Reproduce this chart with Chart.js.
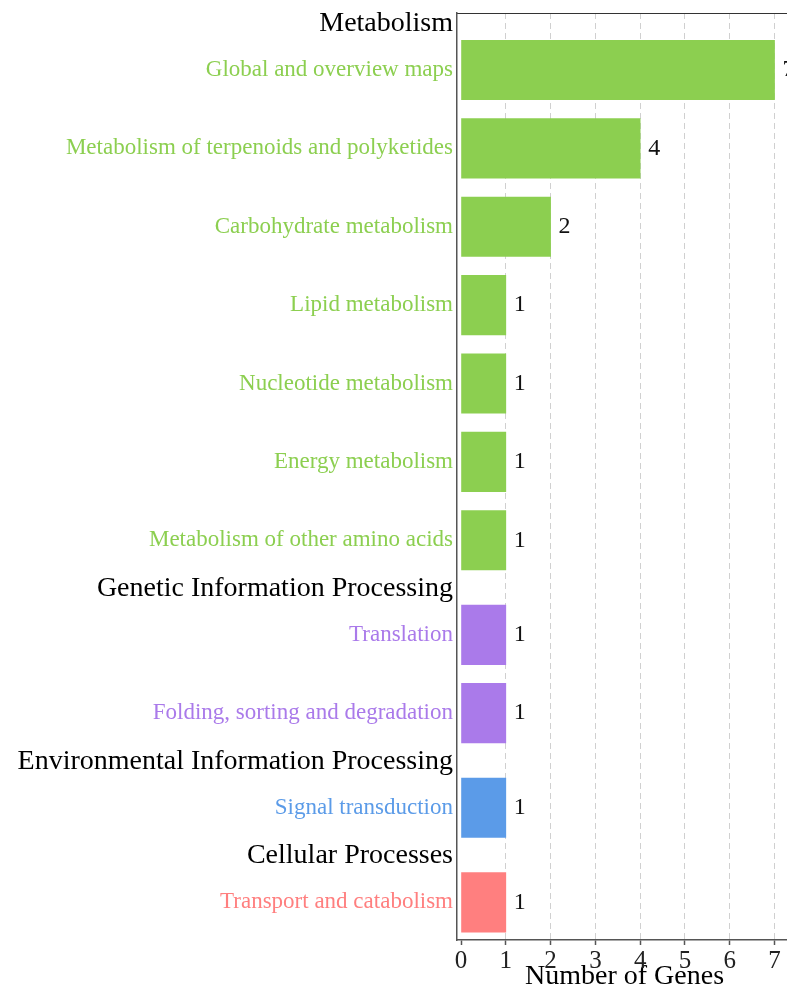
<!DOCTYPE html>
<html>
<head>
<meta charset="utf-8">
<script src="https://cdn.jsdelivr.net/npm/chart.js@4"></script>
<style>
  html, body { margin: 0; padding: 0; background: #fff; overflow: hidden; }
</style>
</head>
<body>
<canvas id="keggChart" width="795" height="1000"></canvas>
<script>
// data
var categories = ['Global and overview maps', 'Metabolism of terpenoids and polyketides',
    'Carbohydrate metabolism', 'Lipid metabolism', 'Nucleotide metabolism',
    'Energy metabolism', 'Metabolism of other amino acids', 'Translation',
    'Folding, sorting and degradation', 'Signal transduction', 'Transport and catabolism'];
var geneCounts = [7, 4, 2, 1, 1, 1, 1, 1, 1, 1, 1];
var categoryGroup = [0, 0, 0, 0, 0, 0, 0, 1, 1, 2, 3];
var groupNames = ['Metabolism', 'Genetic Information Processing',
    'Environmental Information Processing', 'Cellular Processes'];
var xTicks = [0, 1, 2, 3, 4, 5, 6, 7];

// styles
var groupColors = ['#8ccf50', '#aa7aea', '#5b9be8', '#ff7f7f'];
var serif = '"Liberation Serif", "Times New Roman", serif';
var GROUP_GAP = 0.207;     // extra room for a header row
var HEADER_OFFSET = 0.59;  // header sits above first bar of its group

// row positions on the y scale
var rowPos = categories.map((c, i) => i + GROUP_GAP * (categoryGroup[i] + 1));
var yTicks = [];
groupNames.forEach((name, g) => {
    var first = categoryGroup.indexOf(g);
    yTicks.push({ value: rowPos[first] - HEADER_OFFSET, label: name, color: '#000', header: true });
});
categories.forEach((c, i) => {
    yTicks.push({ value: rowPos[i], label: c, color: groupColors[categoryGroup[i]], header: false });
});
yTicks.sort((a, b) => a.value - b.value);

var valueLabels = {
    id: 'valueLabels',
    afterDatasetsDraw(chart) {
        var ctx = chart.ctx;
        var meta = chart.getDatasetMeta(0);
        ctx.save();
        ctx.font = '24px ' + serif;
        ctx.fillStyle = '#111';
        ctx.textAlign = 'left';
        ctx.textBaseline = 'middle';
        meta.data.forEach((bar, i) => {
            ctx.fillText(String(geneCounts[i]), bar.x + 8, bar.y);
        });
        ctx.restore();
    }
};

var contexto = document.getElementById('keggChart').getContext('2d');
var keggChart = new Chart(contexto, {
    type: 'bar',
    data: {
        datasets: [{
            data: categories.map((c, i) => ({ x: geneCounts[i], y: rowPos[i] })),
            backgroundColor: categories.map((c, i) => groupColors[categoryGroup[i]]),
            borderWidth: 0,
            barThickness: 59.5
        }]
    },
    options: {
        indexAxis: 'y',
        responsive: false,
        animation: false,
        layout: { padding: { top: 13, right: 3, bottom: 9, left: 0 } },
        plugins: {
            legend: { display: false },
            tooltip: { enabled: false }
        },
        scales: {
            x: {
                type: 'linear',
                position: 'bottom',
                min: -0.09,
                max: 7.39,
                afterBuildTicks: (scale) => { scale.ticks = xTicks.map(v => ({ value: v })); },
                grid: {
                    color: (c) => (c.tick && c.tick.value === 0) ? 'rgba(0,0,0,0)' : '#d0d0d0',
                    lineWidth: 1,
                    tickLength: 5,
                    tickColor: '#555',
                    tickWidth: 1.5,
                    tickBorderDash: []
                },
                border: { display: true, color: '#555', width: 1.5, dash: [6, 4] },
                ticks: {
                    font: { family: serif, size: 25, lineHeight: 1 },
                    color: '#222',
                    padding: 4,
                    autoSkip: false,
                    maxRotation: 0
                },
                title: {
                    display: true,
                    text: 'Number of Genes',
                    font: { family: serif, size: 28, lineHeight: 1 },
                    color: '#000',
                    padding: { top: -15, bottom: 0 }
                }
            },
            x2: {
                type: 'linear',
                position: 'top',
                min: 0,
                max: 1,
                ticks: { display: false },
                grid: { display: false, drawTicks: false },
                border: { display: true, color: '#333', width: 1 }
            },
            y: {
                type: 'linear',
                reverse: true,
                offset: false,
                min: -0.52,
                max: rowPos[rowPos.length - 1] + 0.48,
                afterBuildTicks: (scale) => { scale.ticks = yTicks.map(t => ({ value: t.value })); },
                afterFit: (scale) => {
                    scale.width = 457;
                    scale.paddingTop = 0;
                    scale.paddingBottom = 0;
                },
                grid: { display: false, drawTicks: false, offset: false },
                border: { display: true, color: '#555', width: 1.5 },
                ticks: {
                    autoSkip: false,
                    padding: 4,
                    callback: (value, index) => yTicks[index].label,
                    color: (c) => yTicks[c.index] ? yTicks[c.index].color : '#000',
                    font: (c) => ({
                        family: serif,
                        size: (yTicks[c.index] && yTicks[c.index].header) ? 28 : 23,
                        lineHeight: 1.1
                    })
                }
            }
        }
    },
    plugins: [valueLabels]
});
</script>
</body>
</html>
